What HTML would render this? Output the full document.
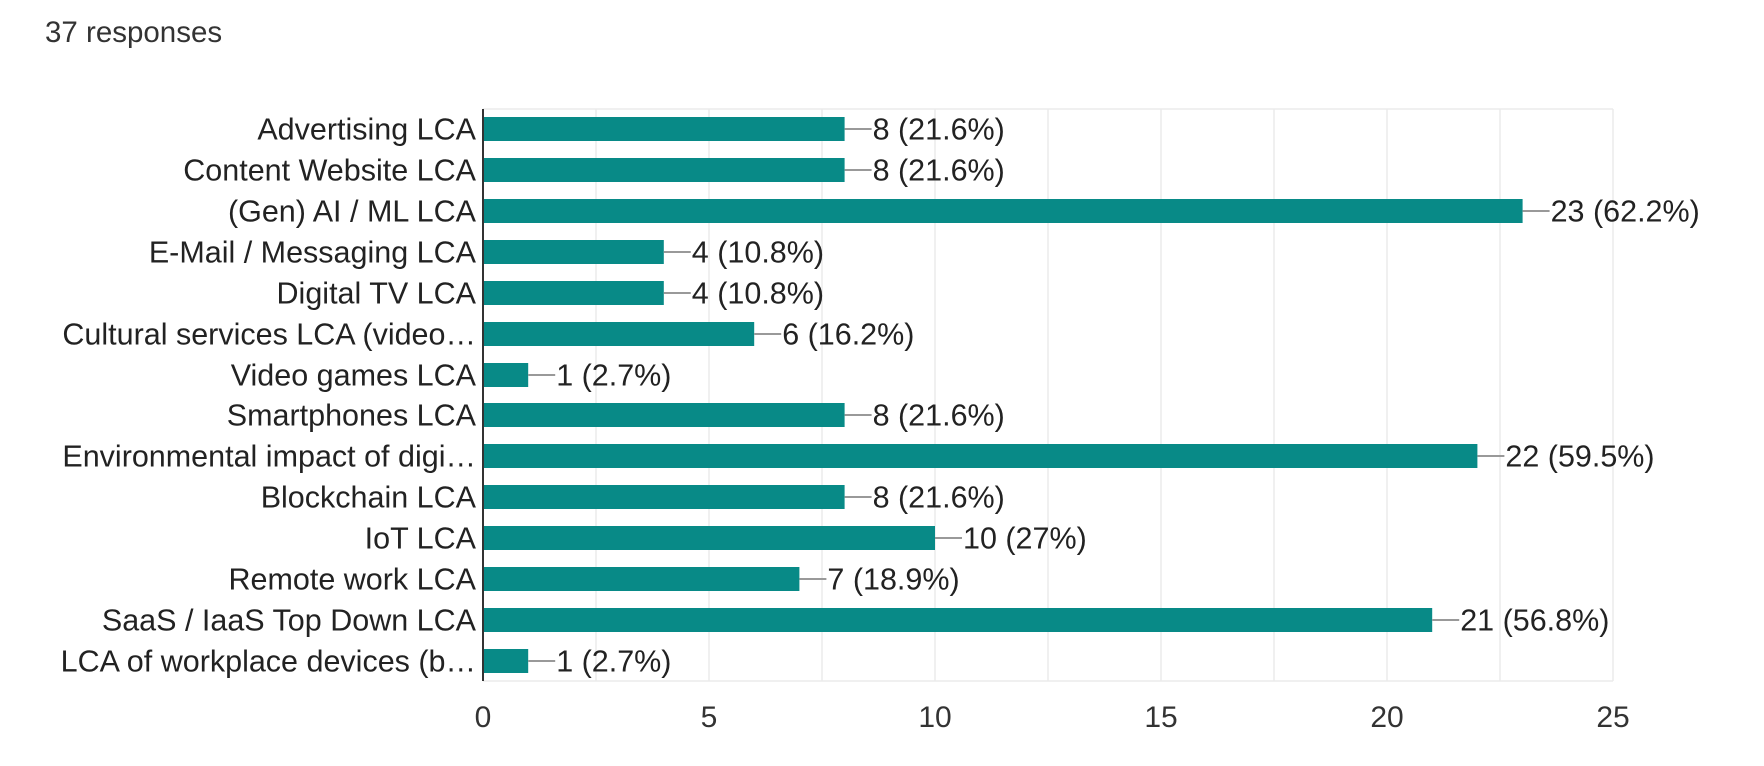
<!DOCTYPE html>
<html><head><meta charset="utf-8"><style>
html,body{margin:0;padding:0;background:#fff;}
svg{display:block;font-family:"Liberation Sans",Arial,sans-serif;}
</style></head><body>
<svg width="1764" height="766" viewBox="0 0 1764 766" xmlns="http://www.w3.org/2000/svg">
<rect width="1764" height="766" fill="#fff"/>
<text x="45" y="42" font-size="29.5" fill="#333">37 responses</text>
<g stroke="#ebebeb" stroke-width="1.5">
<line x1="483" y1="109" x2="1613" y2="109"/>
<line x1="483" y1="681" x2="1613" y2="681"/>
<line x1="596" y1="109" x2="596" y2="681"/>
<line x1="709" y1="109" x2="709" y2="681"/>
<line x1="822" y1="109" x2="822" y2="681"/>
<line x1="935" y1="109" x2="935" y2="681"/>
<line x1="1048" y1="109" x2="1048" y2="681"/>
<line x1="1161" y1="109" x2="1161" y2="681"/>
<line x1="1274" y1="109" x2="1274" y2="681"/>
<line x1="1387" y1="109" x2="1387" y2="681"/>
<line x1="1500" y1="109" x2="1500" y2="681"/>
<line x1="1613" y1="109" x2="1613" y2="681"/>
</g>
<g font-size="30" fill="#333" text-anchor="middle">
<text x="483" y="727">0</text><text x="709" y="727">5</text><text x="935" y="727">10</text>
<text x="1161" y="727">15</text><text x="1387" y="727">20</text><text x="1613" y="727">25</text>
</g>
<g font-size="30.5" fill="#222">
<g transform="translate(0,129)"><text x="476" y="10.5" text-anchor="end">Advertising LCA</text><rect x="484" y="-12" width="360.6" height="24" fill="#088a87"/><line x1="844.6" y1="0" x2="871.6" y2="0" stroke="#999" stroke-width="2"/><text x="872.6" y="10.5">8 (21.6%)</text></g>
<g transform="translate(0,170)"><text x="476" y="10.5" text-anchor="end">Content Website LCA</text><rect x="484" y="-12" width="360.6" height="24" fill="#088a87"/><line x1="844.6" y1="0" x2="871.6" y2="0" stroke="#999" stroke-width="2"/><text x="872.6" y="10.5">8 (21.6%)</text></g>
<g transform="translate(0,211)"><text x="476" y="10.5" text-anchor="end">(Gen) AI / ML LCA</text><rect x="484" y="-12" width="1038.6" height="24" fill="#088a87"/><line x1="1522.6" y1="0" x2="1549.6" y2="0" stroke="#999" stroke-width="2"/><text x="1550.6" y="10.5">23 (62.2%)</text></g>
<g transform="translate(0,252)"><text x="476" y="10.5" text-anchor="end">E-Mail / Messaging LCA</text><rect x="484" y="-12" width="179.8" height="24" fill="#088a87"/><line x1="663.8" y1="0" x2="690.8" y2="0" stroke="#999" stroke-width="2"/><text x="691.8" y="10.5">4 (10.8%)</text></g>
<g transform="translate(0,293)"><text x="476" y="10.5" text-anchor="end">Digital TV LCA</text><rect x="484" y="-12" width="179.8" height="24" fill="#088a87"/><line x1="663.8" y1="0" x2="690.8" y2="0" stroke="#999" stroke-width="2"/><text x="691.8" y="10.5">4 (10.8%)</text></g>
<g transform="translate(0,334)"><text x="476" y="10.5" text-anchor="end">Cultural services LCA (video…</text><rect x="484" y="-12" width="270.2" height="24" fill="#088a87"/><line x1="754.2" y1="0" x2="781.2" y2="0" stroke="#999" stroke-width="2"/><text x="782.2" y="10.5">6 (16.2%)</text></g>
<g transform="translate(0,375)"><text x="476" y="10.5" text-anchor="end">Video games LCA</text><rect x="484" y="-12" width="44.2" height="24" fill="#088a87"/><line x1="528.2" y1="0" x2="555.2" y2="0" stroke="#999" stroke-width="2"/><text x="556.2" y="10.5">1 (2.7%)</text></g>
<g transform="translate(0,415)"><text x="476" y="10.5" text-anchor="end">Smartphones LCA</text><rect x="484" y="-12" width="360.6" height="24" fill="#088a87"/><line x1="844.6" y1="0" x2="871.6" y2="0" stroke="#999" stroke-width="2"/><text x="872.6" y="10.5">8 (21.6%)</text></g>
<g transform="translate(0,456)"><text x="476" y="10.5" text-anchor="end">Environmental impact of digi…</text><rect x="484" y="-12" width="993.4" height="24" fill="#088a87"/><line x1="1477.4" y1="0" x2="1504.4" y2="0" stroke="#999" stroke-width="2"/><text x="1505.4" y="10.5">22 (59.5%)</text></g>
<g transform="translate(0,497)"><text x="476" y="10.5" text-anchor="end">Blockchain LCA</text><rect x="484" y="-12" width="360.6" height="24" fill="#088a87"/><line x1="844.6" y1="0" x2="871.6" y2="0" stroke="#999" stroke-width="2"/><text x="872.6" y="10.5">8 (21.6%)</text></g>
<g transform="translate(0,538)"><text x="476" y="10.5" text-anchor="end">IoT LCA</text><rect x="484" y="-12" width="451" height="24" fill="#088a87"/><line x1="935" y1="0" x2="962" y2="0" stroke="#999" stroke-width="2"/><text x="963" y="10.5">10 (27%)</text></g>
<g transform="translate(0,579)"><text x="476" y="10.5" text-anchor="end">Remote work LCA</text><rect x="484" y="-12" width="315.4" height="24" fill="#088a87"/><line x1="799.4" y1="0" x2="826.4" y2="0" stroke="#999" stroke-width="2"/><text x="827.4" y="10.5">7 (18.9%)</text></g>
<g transform="translate(0,620)"><text x="476" y="10.5" text-anchor="end">SaaS / IaaS Top Down LCA</text><rect x="484" y="-12" width="948.2" height="24" fill="#088a87"/><line x1="1432.2" y1="0" x2="1459.2" y2="0" stroke="#999" stroke-width="2"/><text x="1460.2" y="10.5">21 (56.8%)</text></g>
<g transform="translate(0,661)"><text x="476" y="10.5" text-anchor="end">LCA of workplace devices (b…</text><rect x="484" y="-12" width="44.2" height="24" fill="#088a87"/><line x1="528.2" y1="0" x2="555.2" y2="0" stroke="#999" stroke-width="2"/><text x="556.2" y="10.5">1 (2.7%)</text></g>
</g>
<line x1="483" y1="109" x2="483" y2="681" stroke="#333" stroke-width="2"/>
</svg>
</body></html>
